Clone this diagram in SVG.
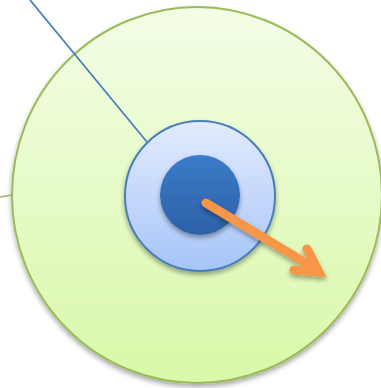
<svg xmlns="http://www.w3.org/2000/svg" width="381" height="388" viewBox="0 0 381 388">
<defs>
<linearGradient id="gGreen" x1="0" y1="0" x2="0" y2="1"><stop offset="0" stop-color="#f3fde6"/><stop offset="1" stop-color="#d9f8a8"/></linearGradient>
<linearGradient id="gLight" x1="0" y1="0" x2="0" y2="1"><stop offset="0" stop-color="#e2ebfd"/><stop offset="1" stop-color="#a7c5f8"/></linearGradient>
<linearGradient id="gDark" x1="0" y1="0" x2="0" y2="1"><stop offset="0" stop-color="#3b7bc9"/><stop offset="1" stop-color="#2d61a6"/></linearGradient>
<filter id="sh" x="-20%" y="-20%" width="140%" height="140%"><feGaussianBlur in="SourceAlpha" stdDeviation="2.5"/><feOffset dx="0" dy="3"/><feComponentTransfer><feFuncA type="linear" slope="0.35"/></feComponentTransfer><feMerge><feMergeNode/><feMergeNode in="SourceGraphic"/></feMerge></filter>
</defs>
<style>
.blue{stroke:#4a7ebb;fill:none}
.orange{stroke:#f79646;stroke-width:9;fill:none;stroke-linecap:round;stroke-linejoin:miter;stroke-miterlimit:10}
</style>
<g id="outer"><ellipse cx="197" cy="195" rx="185" ry="188" fill="url(#gGreen)" stroke="#9bbb59" stroke-width="2" filter="url(#sh)"/></g>
<g id="connectors">
<line x1="0" y1="197" x2="12" y2="195" stroke="#9bbb59" stroke-width="1.5"/>
<line class="blue" x1="30" y1="0" x2="147" y2="142" stroke-width="1.8"/>
</g>
<g id="middle"><circle cx="200" cy="196" r="75" fill="url(#gLight)" stroke="#4a7ebb" stroke-width="2" filter="url(#sh)"/></g>
<g id="core"><circle cx="200" cy="195" r="40" fill="url(#gDark)" filter="url(#sh)"/></g>
<g id="arrow" filter="url(#sh)">
<line class="orange" x1="206" y1="203" x2="316" y2="269"/>
<polyline class="orange" points="307,249 319,272 294,270"/>
</g>
</svg>
